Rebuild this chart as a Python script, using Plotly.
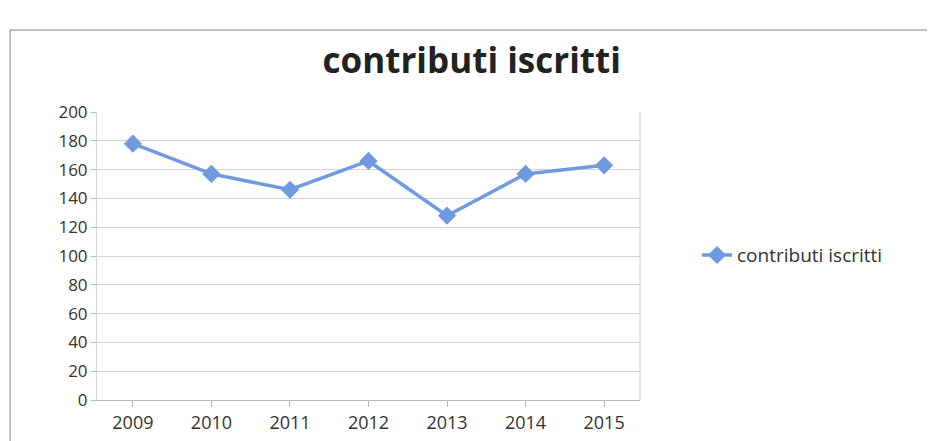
import plotly.graph_objects as go

years = ["2009", "2010", "2011", "2012", "2013", "2014", "2015"]
contributi = [178, 157, 146, 166, 128, 157, 163]
y_ticks = [0, 20, 40, 60, 80, 100, 120, 140, 160, 180, 200]

fig = go.Figure()
fig.add_trace(go.Scatter(
    x=years, y=contributi, mode="lines+markers", name="contributi iscritti",
    line=dict(color="#6f9ae0", width=3.5),
    marker=dict(symbol="diamond", size=14, color="#6f9ae0"),
))

fig.update_layout(
    width=935, height=441,
    margin=dict(l=89, r=303, t=104, b=49),
    paper_bgcolor="white", plot_bgcolor="white",
    font=dict(family="Open Sans, DejaVu Sans, sans-serif", color="#333333"),
    title=dict(text="<b>contributi iscritti</b>", x=0.496, xanchor="center",
               y=0.88, yanchor="middle", font=dict(size=35, color="#222222")),
    showlegend=True,
    legend=dict(x=1.105, xanchor="left", y=0.503, yanchor="middle",
                font=dict(size=19, color="#333333"), bgcolor="rgba(0,0,0,0)"),
    xaxis=dict(type="category", showgrid=False, showline=True, linecolor="#bbbbbb",
               ticks="outside", ticklen=6, tickcolor="#bbbbbb",
               tickfont=dict(size=18, color="#333333"), fixedrange=True),
    yaxis=dict(range=[0, 200], tickvals=y_ticks, showgrid=True, gridcolor="#d4d4d8",
               gridwidth=1, zeroline=False, showline=True, linecolor="#d4d4d8",
               ticks="outside", ticklen=5, tickcolor="#bbbbbb",
               tickfont=dict(size=17, color="#333333")),
    shapes=[
        dict(type="rect", xref="paper", yref="paper", x0=-0.16, x1=1.534, y0=-0.2, y1=1.285,
             line=dict(color="#aaaaaa", width=1.5)),
        dict(type="line", xref="paper", yref="paper", x0=1.0, x1=1.0, y0=0, y1=1,
             line=dict(color="#cccccc", width=1)),
    ],
)

fig.write_html("out.html")
